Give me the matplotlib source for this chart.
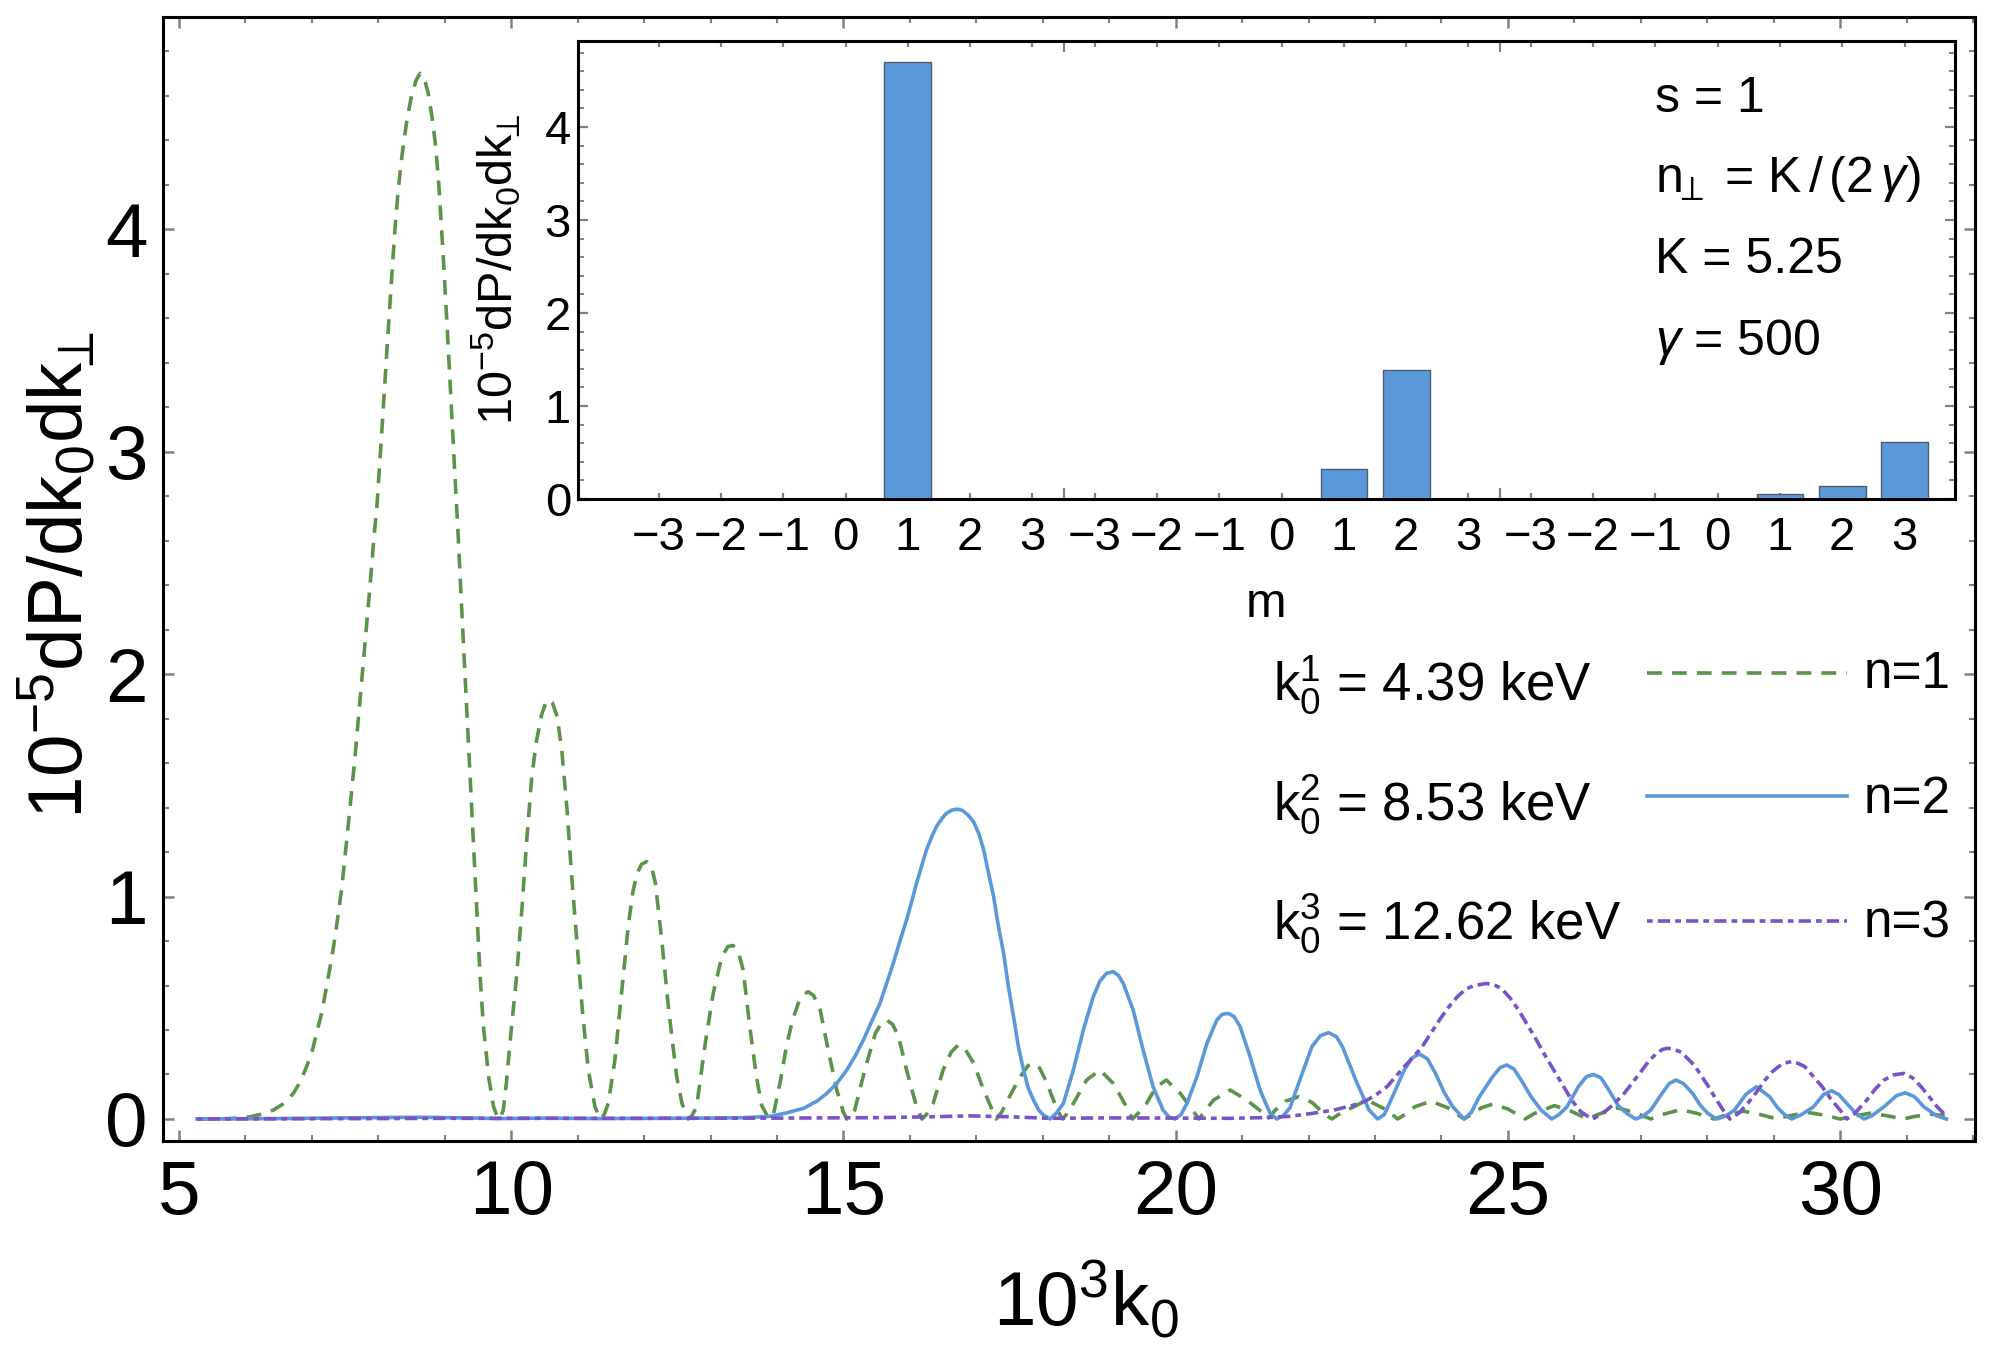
import matplotlib
matplotlib.use('Agg')
import matplotlib.pyplot as plt
from matplotlib.ticker import MultipleLocator, FixedLocator
from matplotlib.lines import Line2D

plt.rcParams['font.family'] = ['Liberation Sans', 'DejaVu Sans']
plt.rcParams['mathtext.fontset'] = 'custom'
plt.rcParams['mathtext.rm'] = 'Liberation Sans'
plt.rcParams['mathtext.it'] = 'Liberation Sans:italic'
plt.rcParams['mathtext.bf'] = 'Liberation Sans:bold'
plt.rcParams['mathtext.sf'] = 'Liberation Sans'
plt.rcParams['mathtext.fallback'] = 'stixsans'

# ---------------- data ----------------
# n = 1 (green dashed)
k0_n1 = [5.27, 5.6, 5.9, 6.07, 6.25, 6.42, 6.58, 6.72, 6.82, 6.92, 7.0, 7.07, 7.15, 7.22, 7.29, 7.35, 7.45,
         7.55, 7.65, 7.72, 7.80, 7.87, 7.93, 7.98, 8.05, 8.13, 8.20, 8.25, 8.30, 8.36, 8.43, 8.50, 8.57, 8.63,
         8.69, 8.75, 8.81, 8.86, 8.91, 8.98, 9.05, 9.13, 9.20, 9.25, 9.33, 9.38, 9.43, 9.48, 9.53, 9.58, 9.66,
         9.73, 9.80,
         9.84, 9.88, 9.93, 9.98, 10.03, 10.08, 10.16, 10.23, 10.31, 10.38, 10.46, 10.52, 10.56, 10.62, 10.69,
         10.76, 10.84, 10.91, 10.99, 11.07, 11.16, 11.26, 11.34,
         11.40, 11.46, 11.56, 11.66, 11.76, 11.83, 11.89, 11.96, 12.04, 12.11, 12.17, 12.27, 12.37, 12.49,
         12.57, 12.66,
         12.72, 12.79, 12.92, 13.04, 13.17, 13.26, 13.34, 13.42, 13.49, 13.59, 13.69, 13.77, 13.88,
         13.95, 14.05, 14.15, 14.24, 14.32, 14.40, 14.47, 14.55, 14.65, 14.77, 14.90, 15.00, 15.05,
         15.10, 15.17, 15.32, 15.48, 15.57, 15.65, 15.74, 15.83, 15.95, 16.10, 16.18,
         16.25, 16.35, 16.50, 16.62, 16.73, 16.83, 16.96, 17.11, 17.26, 17.30,
         17.38, 17.48, 17.66, 17.78, 17.86, 17.95, 18.05, 18.16, 18.26, 18.30,
         18.38, 18.46, 18.66, 18.86, 19.06, 19.26, 19.35,
         19.45, 19.56, 19.71, 19.86, 20.07, 20.27, 20.35,
         20.45, 20.57, 20.82, 21.07, 21.32, 21.38,
         21.50, 21.65, 21.85, 22.05, 22.25, 22.35,
         22.45, 22.58, 22.88, 23.18, 23.34,
         23.45, 23.60, 23.84, 24.10, 24.34,
         24.45, 24.60, 24.77, 25.00, 25.26,
         25.40, 25.70, 25.95, 26.20,
         26.35, 26.65, 26.90, 27.15,
         27.30, 27.60, 27.85, 28.10,
         28.25, 28.55, 28.80, 29.05,
         29.20, 29.50, 29.75, 30.00,
         30.15, 30.45, 30.70, 30.95,
         31.10, 31.35, 31.60]
P_n1 = [0.0, 0.0, 0.004, 0.01, 0.022, 0.04, 0.07, 0.115, 0.165, 0.235, 0.30, 0.385, 0.48, 0.595, 0.71, 0.82, 1.04,
        1.33, 1.63, 1.87, 2.14, 2.38, 2.60, 2.76, 3.08, 3.46, 3.78, 4.00, 4.18, 4.34, 4.49, 4.60, 4.67, 4.70,
        4.68, 4.61, 4.50, 4.38, 4.20, 3.86, 3.48, 3.02, 2.63, 2.32, 1.84, 1.54, 1.24, 0.94, 0.65, 0.42, 0.19,
        0.06, 0.0,
        0.01, 0.04, 0.17, 0.34, 0.49, 0.64, 0.94, 1.24, 1.54, 1.70, 1.82, 1.87, 1.885, 1.87, 1.81,
        1.66, 1.39, 1.09, 0.79, 0.49, 0.22, 0.055, 0.0,
        0.02, 0.07, 0.265, 0.565, 0.865, 1.02, 1.10, 1.145, 1.157, 1.135, 1.06, 0.79, 0.49, 0.19,
        0.07, 0.0,
        0.015, 0.055, 0.34, 0.565, 0.73, 0.775, 0.78, 0.75, 0.67, 0.415, 0.19, 0.06, 0.0,
        0.026, 0.17, 0.34, 0.45, 0.52, 0.56, 0.572, 0.555, 0.49, 0.31, 0.13, 0.03, 0.0,
        0.01, 0.04, 0.22, 0.385, 0.43, 0.445, 0.425, 0.37, 0.22, 0.055, 0.0,
        0.02, 0.07, 0.22, 0.30, 0.333, 0.315, 0.25, 0.13, 0.026, 0.0,
        0.03, 0.09, 0.19, 0.24, 0.25, 0.23, 0.17, 0.085, 0.018, 0.0,
        0.03, 0.07, 0.175, 0.22, 0.16, 0.055, 0.0,
        0.03, 0.07, 0.145, 0.175, 0.115, 0.033, 0.0,
        0.04, 0.085, 0.13, 0.085, 0.026, 0.0,
        0.04, 0.08, 0.10, 0.075, 0.02, 0.0,
        0.02, 0.04, 0.085, 0.04, 0.0,
        0.02, 0.055, 0.08, 0.05, 0.0,
        0.02, 0.05, 0.067, 0.045, 0.0,
        0.025, 0.06, 0.035, 0.0,
        0.02, 0.05, 0.03, 0.0,
        0.018, 0.042, 0.025, 0.0,
        0.015, 0.035, 0.02, 0.0,
        0.012, 0.03, 0.018, 0.0,
        0.01, 0.026, 0.015, 0.0,
        0.01, 0.022, 0.015]

# n = 2 (blue solid)
k0_n2 = [5.27, 6.5, 7.5, 8.6, 9.5, 9.8, 10.5, 11.3, 12.2, 13.0, 13.5, 13.90, 14.15, 14.40, 14.60, 14.75,
         14.90, 15.05, 15.18, 15.30, 15.42, 15.55, 15.65, 15.75, 15.85, 15.95, 16.03, 16.10, 16.18, 16.25,
         16.33, 16.40, 16.48, 16.55, 16.63, 16.71, 16.79, 16.87, 16.96, 17.04, 17.11, 17.18, 17.26, 17.33, 17.41,
         17.48, 17.56, 17.63, 17.71, 17.78, 17.86, 17.94, 18.01, 18.11,
         18.20, 18.31, 18.46, 18.61, 18.76, 18.86, 18.96, 19.06, 19.14, 19.21, 19.36, 19.51, 19.66, 19.81,
         19.90, 19.99,
         20.08, 20.17, 20.32, 20.47, 20.62, 20.70, 20.79, 20.88, 20.97, 21.12, 21.27, 21.42, 21.52,
         21.62, 21.72, 21.85, 22.05, 22.18, 22.30, 22.42, 22.51, 22.71, 22.91, 23.04,
         23.14, 23.24, 23.44, 23.56, 23.67, 23.79, 23.91, 24.04, 24.17, 24.34,
         24.45, 24.57, 24.77, 24.88, 24.98, 25.09, 25.20, 25.35, 25.50, 25.66,
         25.77, 25.89, 26.06, 26.18, 26.29, 26.40, 26.52, 26.66, 26.79, 26.92,
         27.03, 27.15, 27.32, 27.43, 27.53, 27.64, 27.78, 27.90, 28.01, 28.14,
         28.27, 28.41, 28.58, 28.74, 28.94, 29.06, 29.17, 29.27,
         29.42, 29.60, 29.75, 29.87, 29.98, 30.10, 30.22, 30.36,
         30.48, 30.66, 30.85, 30.98, 31.12, 31.26, 31.45, 31.60]
P_n2 = [0.0, 0.002, 0.005, 0.008, 0.004, 0.002, 0.004, 0.002, 0.003, 0.004, 0.006, 0.012, 0.028, 0.048, 0.08, 0.115,
        0.16, 0.22, 0.285, 0.355, 0.435, 0.52, 0.61, 0.70, 0.80, 0.895, 0.98, 1.06, 1.14, 1.21,
        1.27, 1.314, 1.35, 1.374, 1.388, 1.393, 1.387, 1.368, 1.335, 1.28, 1.21, 1.11, 1.0, 0.87, 0.745,
        0.60, 0.46, 0.33, 0.22, 0.14, 0.085, 0.04, 0.018, 0.0,
        0.025, 0.07, 0.22, 0.40, 0.55, 0.62, 0.655, 0.662, 0.645, 0.61, 0.49, 0.31, 0.145, 0.04,
        0.008, 0.0,
        0.02, 0.07, 0.19, 0.34, 0.445, 0.47, 0.475, 0.46, 0.415, 0.28, 0.13, 0.026, 0.0,
        0.015, 0.05, 0.16, 0.325, 0.375, 0.388, 0.37, 0.325, 0.175, 0.04, 0.0,
        0.02, 0.085, 0.22, 0.275, 0.292, 0.27, 0.205, 0.12, 0.055, 0.0,
        0.03, 0.10, 0.19, 0.23, 0.243, 0.225, 0.175, 0.10, 0.04, 0.0,
        0.02, 0.055, 0.145, 0.19, 0.20, 0.185, 0.13, 0.06, 0.025, 0.0,
        0.012, 0.04, 0.115, 0.16, 0.175, 0.16, 0.115, 0.06, 0.025, 0.0,
        0.012, 0.04, 0.11, 0.145, 0.10, 0.05, 0.018, 0.0,
        0.02, 0.055, 0.11, 0.127, 0.11, 0.07, 0.03, 0.0,
        0.015, 0.055, 0.105, 0.118, 0.10, 0.055, 0.015, 0.0]

# n = 3 (purple dash-dot)
k0_n3 = [5.27, 8.0, 9.0, 12.0, 14.0, 15.5, 16.3, 16.9, 17.5, 18.1, 19.0, 20.0, 20.8, 21.3, 21.72, 22.05,
         22.38, 22.65, 22.85, 23.0, 23.18, 23.31, 23.44, 23.58, 23.71, 23.84, 23.97, 24.10, 24.24, 24.37,
         24.50, 24.67, 24.78, 24.90, 25.03, 25.16, 25.30, 25.43, 25.56, 25.69, 25.83, 25.96, 26.09, 26.22,
         26.28,
         26.36, 26.49, 26.62, 26.75, 26.88, 27.02, 27.12, 27.22, 27.32, 27.40, 27.50, 27.61, 27.71, 27.81,
         27.91, 28.01, 28.12, 28.24, 28.34,
         28.47, 28.61, 28.74, 28.87, 28.97, 29.07, 29.17, 29.27, 29.37, 29.47, 29.60, 29.73, 29.86, 30.00,
         30.10,
         30.22, 30.40, 30.53, 30.66, 30.80, 30.96, 31.09, 31.22, 31.34, 31.46, 31.56, 31.60]
P_n3 = [0.0, 0.002, 0.003, 0.003, 0.004, 0.006, 0.010, 0.014, 0.010, 0.003, 0.005, 0.004, 0.003, 0.006, 0.012, 0.025,
        0.04, 0.06, 0.08, 0.105, 0.145, 0.19, 0.235, 0.28, 0.325, 0.385, 0.445, 0.50, 0.55, 0.585,
        0.60, 0.609, 0.605, 0.587, 0.545, 0.49, 0.42, 0.355, 0.285, 0.22, 0.15, 0.085, 0.035, 0.008,
        0.0,
        0.015, 0.04, 0.075, 0.115, 0.165, 0.22, 0.26, 0.29, 0.312, 0.318, 0.313, 0.30, 0.27, 0.24,
        0.195, 0.15, 0.095, 0.04, 0.0,
        0.025, 0.07, 0.12, 0.175, 0.21, 0.235, 0.252, 0.258, 0.25, 0.235, 0.19, 0.145, 0.09, 0.04,
        0.0,
        0.025, 0.085, 0.135, 0.175, 0.198, 0.205, 0.185, 0.145, 0.10, 0.055, 0.025, 0.015]

# inset bar chart
m_labels = ['\u22123', '\u22122', '\u22121', '0', '1', '2', '3'] * 3
bar_values = [0, 0, 0, 0, 4.70, 0, 0,
              0, 0, 0, 0, 0.32, 1.39, 0,
              0, 0, 0, 0, 0.055, 0.14, 0.61]

legend_energy = [r'$\mathrm{k}_0^1$ = 4.39 keV', r'$\mathrm{k}_0^2$ = 8.53 keV', r'$\mathrm{k}_0^3$ = 12.62 keV']
legend_names = ['n=1', 'n=2', 'n=3']
inset_notes = ['s = 1', r'$\mathrm{n}_{\!\!\perp}$ = K$\,$/$\,$(2$\,\gamma$)', 'K = 5.25', r'$\gamma$ = 500']
ylabel_text = r'$10^{-5}\mathrm{dP/dk_0dk}_{\!\!\perp}$'

# ---------------- styling ----------------
GREEN = '#5b9349'
BLUE = '#5b98da'
PURPLE = '#7953c8'
TICKC = '#808080'
LW = 2.6
styles = [dict(color=GREEN, lw=LW, linestyle=(0, (4.1, 2.8))),
          dict(color=BLUE, lw=LW, linestyle='-'),
          dict(color=PURPLE, lw=LW, linestyle=(0, (1.6, 1.4, 3.4, 1.4)))]

W, H = 1991, 1355
fig = plt.figure(figsize=(W / 100, H / 100), dpi=100)


def fx(px):
    return px / W


def fy(py):
    return 1 - py / H


# ---------------- main axes ----------------
ax = fig.add_axes([fx(163), fy(1141), fx(1975) - fx(163), fy(17) - fy(1141)])
ax.plot(k0_n1, P_n1, **styles[0])
ax.plot(k0_n2, P_n2, **styles[1])
ax.plot(k0_n3, P_n3, **styles[2])
ax.set_xlim(4.759, 32.03)
ax.set_ylim(-0.0989, 4.953)
ax.set_xticks([5, 10, 15, 20, 25, 30])
ax.xaxis.set_minor_locator(MultipleLocator(1))
ax.set_yticks([0, 1, 2, 3, 4])
ax.yaxis.set_minor_locator(MultipleLocator(0.2))
ax.tick_params(which='both', direction='in', top=True, right=True, color=TICKC)
ax.tick_params(which='major', length=8, width=1.8, labelsize=55)
ax.tick_params(which='minor', length=4.5, width=1.5)
ax.tick_params(axis='x', which='major', pad=13)
ax.tick_params(axis='y', which='major', pad=11)
for sp in ax.spines.values():
    sp.set_linewidth(2.2)
    sp.set_color('black')

fig.text(fx(1086), fy(1326), r'$10^3\mathrm{k}_0$', fontsize=55, ha='center', va='baseline')
fig.text(fx(82), fy(575), ylabel_text, fontsize=55, ha='center',
         va='baseline', rotation=90, rotation_mode='anchor')

# ---------------- legend ----------------
legend_line_y = [673, 796, 921]
legend_energy_y = [701, 820, 939]
legend_name_y = [688, 813, 937]
for i in range(3):
    fig.add_artist(Line2D([fx(1647), fx(1847)], [fy(legend_line_y[i])] * 2, **styles[i]))
    fig.text(fx(1273), fy(legend_energy_y[i]), legend_energy[i], fontsize=38, ha='left', va='baseline')
    fig.text(fx(1864), fy(legend_name_y[i]), legend_names[i], fontsize=37, ha='left', va='baseline')

# ---------------- inset ----------------
axi = fig.add_axes([fx(578), fy(499), fx(1955) - fx(578), fy(41) - fy(499)])
positions = list(range(len(bar_values)))
axi.bar(positions, bar_values, width=0.75, color=BLUE, edgecolor='#4d5d72', linewidth=1.0, zorder=2)
axi.set_xlim(-1.294, 20.81)
axi.set_ylim(0, 4.925)
axi.set_xticks(positions)
axi.set_xticklabels(m_labels)
axi.xaxis.set_minor_locator(FixedLocator([6.5, 13.5]))
axi.set_yticks([0, 1, 2, 3, 4])
axi.yaxis.set_minor_locator(MultipleLocator(0.2))
axi.tick_params(which='both', direction='in', top=True, right=True, color=TICKC)
axi.tick_params(axis='x', which='major', length=4, width=1.6, labelsize=34, pad=12)
axi.tick_params(axis='x', which='minor', length=8, width=1.6)
axi.tick_params(axis='y', which='major', length=7, width=1.6, labelsize=34, pad=5)
axi.tick_params(axis='y', which='minor', length=4, width=1.4)
for sp in axi.spines.values():
    sp.set_linewidth(2.2)
    sp.set_color('black')
    sp.set_zorder(3)

fig.text(fx(513), fy(269), ylabel_text, fontsize=35, ha='center',
         va='baseline', rotation=90, rotation_mode='anchor')
fig.text(fx(1266), fy(617), 'm', fontsize=35, ha='center', va='baseline')

note_y = [112, 192, 273, 355]
for t, yy in zip(inset_notes, note_y):
    fig.text(fx(1655), fy(yy), t, fontsize=36, ha='left', va='baseline')

fig.savefig('out.png', dpi=100)
